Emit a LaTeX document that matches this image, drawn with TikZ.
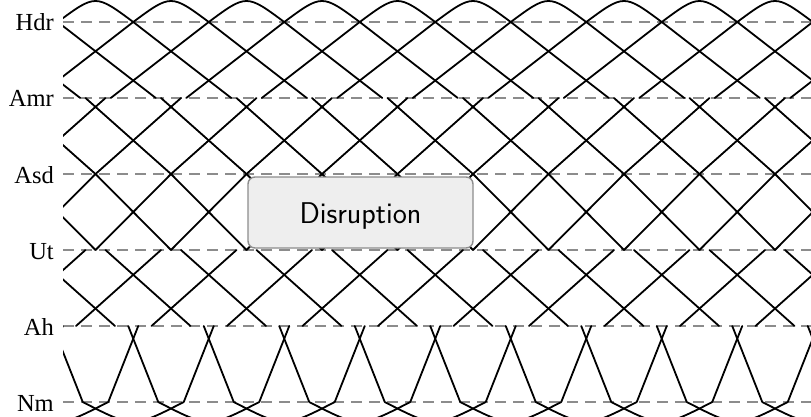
\documentclass[tikz,border=0pt]{standalone}
\usepackage{fontspec}
\newfontfamily\levelfont{Liberation Serif}
\usepackage{tikz}
\definecolor{guidegray}{HTML}{8C8C8C}
\definecolor{boxfill}{HTML}{EEEEEE}

\begin{document}
\begin{tikzpicture}[
  x=1pt, y=-1pt,
  levellabel/.style={anchor=east, inner xsep=9pt, inner ysep=0pt, text height=18pt, text depth=0pt, font=\levelfont\fontsize{24.5}{28}\selectfont},
  guide/.style={draw=guidegray, line width=1.6pt, dash pattern=on 11pt off 7pt},
  strand/.style={line width=1.8pt, line join=round, line cap=round},
  eventbox/.style={draw=guidegray, line width=1.4pt, fill=boxfill, rounded corners=7pt, minimum width=225pt, minimum height=71pt, text height=21pt, text depth=0pt, font=\sffamily\fontsize{30}{34}\selectfont}
]
\useasboundingbox (0,0) rectangle (811,417);
\node[levellabel] (hdr) at (63,22) {Hdr};
\node[levellabel] (amr) at (63,98) {Amr};
\node[levellabel] (asd) at (63,174) {Asd};
\node[levellabel] (ut) at (63,250) {Ut};
\node[levellabel] (ah) at (63,326) {Ah};
\node[levellabel] (nm) at (63,402) {Nm};
\foreach \lvl in {hdr,amr,asd,ut,ah,nm}
  \draw[guide] (\lvl.east) -- +(748,0);
\begin{scope}
\clip (63,0) rectangle (811,417);
\foreach \k in {-3,...,11}{
  \pgfmathsetmacro\c{95.5+75.5*\k}
  \pgfmathsetmacro\d{\c+37.75}
  \draw[strand] (\c-135.75,98) -- (\c-37.75,22) .. controls (\c,-6) .. (\c+37.75,22) -- (\c+135.75,98);
  \draw[strand] (\c-10,98) -- (\c+75.5,174) -- (\c+151,250);
  \draw[strand] (\c+10,98) -- (\c-75.5,174) -- (\c-151,250);
  \draw[strand] (\c-10,250) -- (\c-95,326);
  \draw[strand] (\c+10,250) -- (\c+95,326);
  \draw[strand] (\d-80.5,326) -- (\d-50.5,402) .. controls (\d,428) .. (\d+50.5,402) -- (\d+80.5,326);
}
\end{scope}
\node[eventbox] (disruption) at (360.5,212.5) {Disruption};
\end{tikzpicture}
\end{document}
